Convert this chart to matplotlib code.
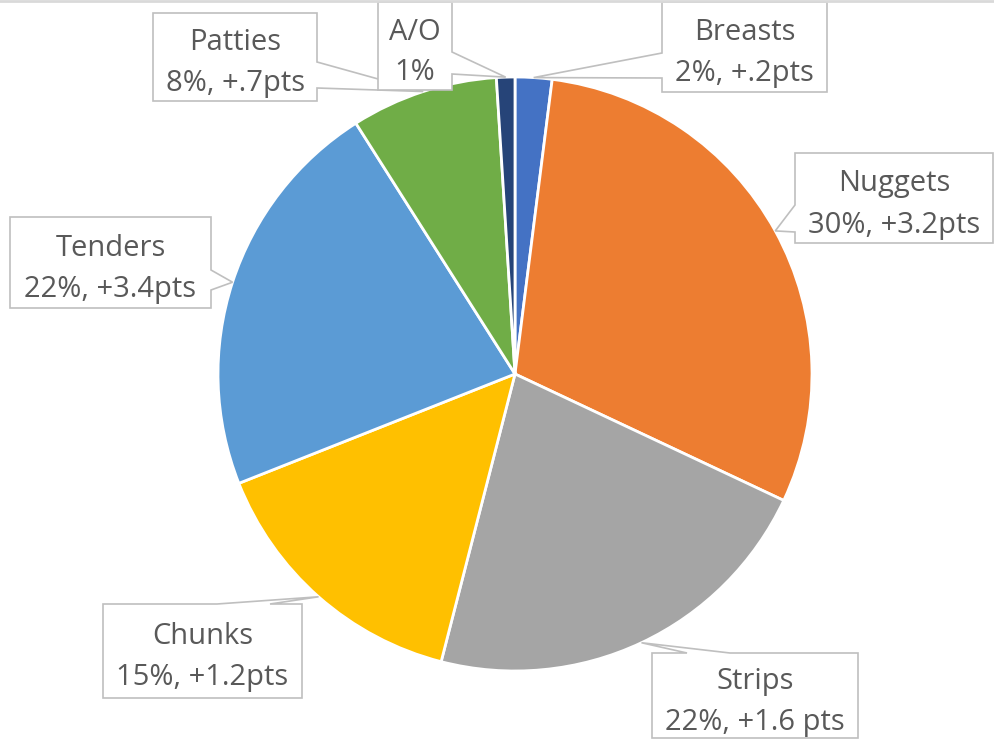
import numpy as np
import matplotlib
matplotlib.use("Agg")
import matplotlib.pyplot as plt
from matplotlib.patches import Polygon

# ---- data ----
categories = ["Breasts", "Nuggets", "Strips", "Chunks", "Tenders", "Patties", "A/O"]
shares = [2, 30, 22, 15, 22, 8, 1]
changes = ["+.2pts", "+3.2pts", "+1.6 pts", "+1.2pts", "+3.4pts", "+.7pts", ""]
colors = ["#4472C4", "#ED7D31", "#A5A5A5", "#FFC000", "#5B9BD5", "#70AD47", "#264478"]

# ---- layout (pixel coords, origin top-left) ----
W, H = 995, 745
center = (515, 374)
radius = 297
# box: (x0, y0, x1, y1), pointer side, base start, base end
boxes = {
    "Breasts": ((662, 2, 827, 92), "left", 53, 78),
    "Nuggets": ((795, 153, 993, 243), "left", 205, 232),
    "Strips": ((652, 653, 858, 738), "top", 687, 730),
    "Chunks": ((103, 604, 302, 698), "top", 217, 270),
    "Tenders": ((10, 217, 211, 308), "right", 270, 290),
    "Patties": ((153, 13, 317, 101), "right", 62, 88),
    "A/O": ((378, 2, 452, 90), "right", 52, 74),
}
draw_order = ["Breasts", "Nuggets", "Strips", "Chunks", "Tenders", "Patties", "A/O"]

fig = plt.figure(figsize=(W / 100, H / 100), dpi=100)
ax = fig.add_axes([0, 0, 1, 1])

wedges, _ = ax.pie(shares, colors=colors, startangle=-90, counterclock=True,
                   center=center, radius=radius,
                   wedgeprops=dict(edgecolor="white", linewidth=2))
ax.set_xlim(0, W)
ax.set_ylim(H, 0)
ax.set_aspect("equal")
ax.axis("off")

font = "Open Sans"
tcolor = "#595959"
ecolor = "#BFBFBF"
fs = 21

for name in draw_order:
    i = categories.index(name)
    w = wedges[i]
    mid = np.deg2rad((w.theta1 + w.theta2) / 2)
    cx, cy = w.center
    tip = (cx + w.r * np.cos(mid), cy + w.r * np.sin(mid))
    (x0, y0, x1, y1), side, a, b = boxes[name]
    if side == "left":
        pts = [(x0, y0), (x1, y0), (x1, y1), (x0, y1), (x0, b), tip, (x0, a)]
    elif side == "right":
        pts = [(x0, y0), (x1, y0), (x1, a), tip, (x1, b), (x1, y1), (x0, y1)]
    else:
        pts = [(x0, y0), (a, y0), tip, (b, y0), (x1, y0), (x1, y1), (x0, y1)]
    poly = Polygon(pts, closed=True, facecolor="white", edgecolor=ecolor,
                   linewidth=1.2, zorder=5, joinstyle="miter")
    ax.add_patch(poly)
    xc = (x0 + x1) / 2
    yc = (y0 + y1) / 2 + 6
    line2 = f"{shares[i]}%" + (f", {changes[i]}" if changes[i] else "")
    ax.text(xc, yc - 20, name, ha="center", va="center", fontsize=fs,
            family=font, color=tcolor, zorder=6)
    ax.text(xc, yc + 21, line2, ha="center", va="center", fontsize=fs,
            family=font, color=tcolor, zorder=6)

# top border of chart area
ax.plot([0, W], [1, 1], color="#D9D9D9", linewidth=2, zorder=10, clip_on=False)

fig.savefig("out.png", dpi=100)
